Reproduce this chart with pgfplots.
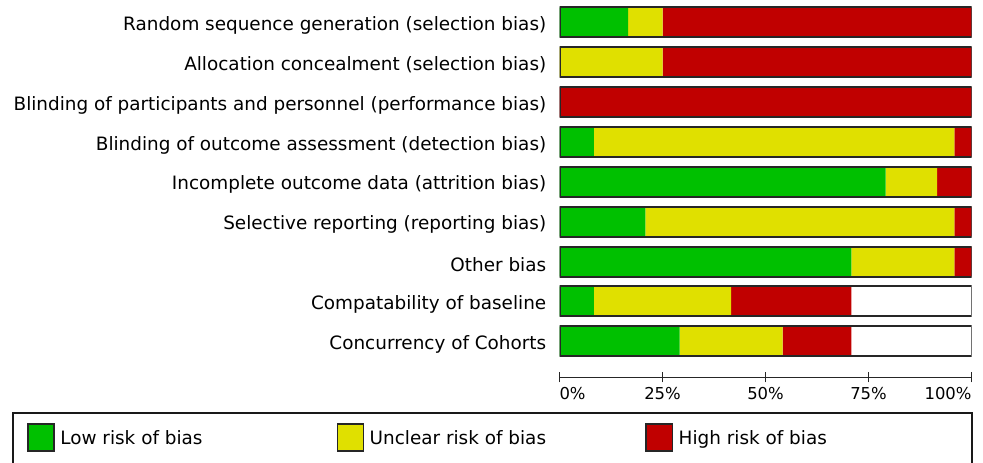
\documentclass[border=0pt]{standalone}
\usepackage{fontspec}
\setmainfont{DejaVu Sans}
\usepackage{pgfplots}
\pgfplotsset{compat=1.18}

\definecolor{lowrisk}{RGB}{0,192,0}
\definecolor{unclear}{RGB}{224,224,0}
\definecolor{highrisk}{RGB}{192,0,0}

% shared frame for the bar panel (1px of the reference = 0.5pt)
\pgfplotsset{robframe/.style={
    at={(279.75pt,-188.65pt)}, anchor=south west,
    scale only axis, width=206pt, height=188.65pt,
    xmin=0, xmax=100, ymin=0.097, ymax=9.559,
    enlargelimits=false,
    bar width=0.75,
}}

\begin{document}
\begin{tikzpicture}
\useasboundingbox (0,0) rectangle (491.5pt,-231pt);
\clip (0,0) rectangle (491.5pt,-231pt);

% --- stacked risk-of-bias bars ---
\begin{axis}[
    robframe,
    xbar stacked,
    axis x line*=bottom, axis y line*=left,
    x axis line style={-, line width=0.8pt, black!85},
    y axis line style={draw=none},
    ytick style={draw=none},
    xtick={0,25,50,75,100},
    tick align=center,
    major tick length=5pt,
    xtick style={line width=0.8pt, black!85},
    xticklabels={\makebox[0pt][l]{0\%},25\%,50\%,75\%,\makebox[0pt][r]{100\%}},
    xticklabel style={font=\fontsize{8.2}{10}\selectfont, yshift=1.2pt},
    ytick={1,2,3,4,5,6,7,8,9},
    yticklabels={
        Concurrency of Cohorts,
        Compatability of baseline,
        Other bias\ ,
        Selective reporting (reporting bias),
        Incomplete outcome data (attrition bias),
        Blinding of outcome assessment (detection bias),
        Blinding of participants and personnel (performance bias),
        Allocation concealment (selection bias),
        Random sequence generation (selection bias)},
    yticklabel style={font=\fontsize{9.2}{11}\selectfont, xshift=-0.6pt, yshift=-1.5pt},
]
% low risk
\addplot[fill=lowrisk, draw=none] coordinates {
    (16.67,9) (0,8) (0,7) (8.33,6) (79.17,5) (20.83,4) (70.83,3) (8.33,2) (29.17,1)};
% unclear risk
\addplot[fill=unclear, draw=none] coordinates {
    (8.33,9) (25,8) (0,7) (87.5,6) (12.5,5) (75,4) (25,3) (33.33,2) (25,1)};
% high risk
\addplot[fill=highrisk, draw=none] coordinates {
    (75,9) (75,8) (100,7) (4.17,6) (8.33,5) (4.17,4) (4.17,3) (29.17,2) (16.67,1)};
\end{axis}

% --- outline of each bar (0-100%) ---
\begin{axis}[robframe, xbar, hide axis]
\addplot[fill=none, draw=black!85, line width=1pt] coordinates {
    (100,1) (100,2) (100,3) (100,4) (100,5) (100,6) (100,7) (100,8) (100,9)};
\end{axis}

% --- legend box ---
\draw[black!90, line width=1pt] (6.35pt,-206.65pt) rectangle (486pt,-245pt);
\begin{scope}[font=\fontsize{9.2}{11}\selectfont]
\draw[fill=lowrisk, draw=black!85, line width=0.6pt] (14pt,-212pt) rectangle (27pt,-225.5pt);
\node[anchor=base west, inner sep=0pt] at (30pt,-222pt) {Low risk of bias};
\draw[fill=unclear, draw=black!85, line width=0.6pt] (168.65pt,-212pt) rectangle (181.65pt,-225.5pt);
\node[anchor=base west, inner sep=0pt] at (184.65pt,-222pt) {Unclear risk of bias};
\draw[fill=highrisk, draw=black!85, line width=0.6pt] (323pt,-212pt) rectangle (336.15pt,-225.5pt);
\node[anchor=base west, inner sep=0pt] at (339.15pt,-222pt) {High risk of bias};
\end{scope}
\end{tikzpicture}
\end{document}
